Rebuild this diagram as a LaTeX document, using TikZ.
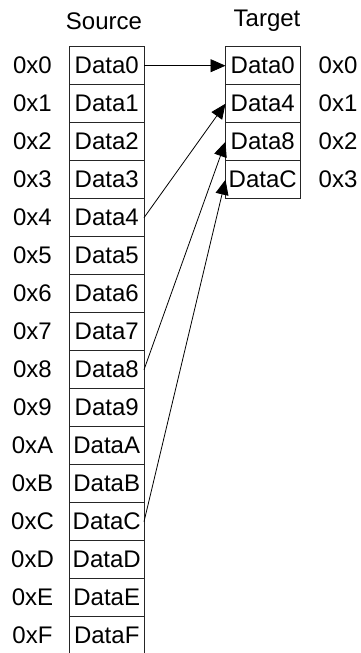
\documentclass[tikz,border=0pt]{standalone}
\usepackage{fontspec}
\setmainfont{Liberation Sans}
\usetikzlibrary{arrows.meta}
\begin{document}
\begin{tikzpicture}[x=1pt,y=-1pt,
  cell/.style={draw=black!85,line width=0.9pt,minimum width=74.5pt,minimum height=38pt,inner sep=0pt,outer sep=0pt,anchor=north west,font=\fontsize{24}{28}\selectfont},
  lbl/.style={font=\fontsize{24}{28}\selectfont,inner sep=0pt},
  conn/.style={line width=0.8pt,-{Triangle[length=15pt,width=13pt]}}]
\clip (0,0) rectangle (361,653);
\fill[white] (0,0) rectangle (361,653);
\node[lbl] (srcT) at (104,21) {Source};
\node[lbl] (tgtT) at (267,21) {Target};
\foreach \i/\h in {0/0,1/1,2/2,3/3,4/4,5/5,6/6,7/7,8/8,9/9,10/A,11/B,12/C,13/D,14/E,15/F}{
  \node[cell] (s\i) at (69.5,{46.7+38*\i}) {Data\h};
  \node[lbl] (sl\i) at (32.5,{65.7+38*\i}) {0x\h};
}
\foreach \i/\h in {0/0,1/4,2/8,3/C}{
  \node[cell] (t\i) at (225.5,{46.7+38*\i}) {Data\h};
  \node[lbl] (tl\i) at (338,{65.7+38*\i}) {0x\i};
}
\draw[conn] (s0.east) -- (t0.west);
\draw[conn] (s4.east) -- (t1.west);
\draw[conn] (s8.east) -- (t2.west);
\draw[conn] (s12.east) -- (t3.west);
\end{tikzpicture}
\end{document}
